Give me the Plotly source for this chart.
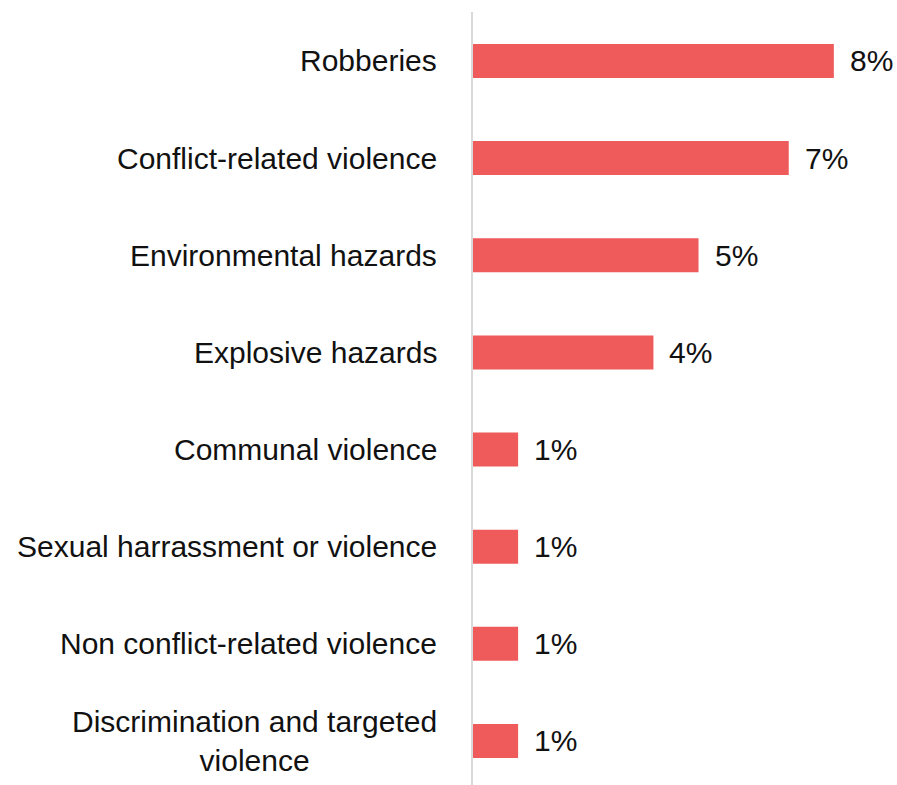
import plotly.graph_objects as go

# Share of respondents reporting each safety concern
categories = [
    "Robberies",
    "Conflict-related violence",
    "Environmental hazards",
    "Explosive hazards",
    "Communal violence",
    "Sexual harrassment or violence",
    "Non conflict-related violence",
    "Discrimination and targeted<br>violence",
]
values = [8, 7, 5, 4, 1, 1, 1, 1]
value_labels = ["8%", "7%", "5%", "4%", "1%", "1%", "1%", "1%"]

BAR_COLOR = "#EF5A5B"
FONT = "Liberation Sans, Arial, sans-serif"
positions = list(range(len(categories)))

fig = go.Figure(
    go.Bar(
        x=values,
        y=positions,
        orientation="h",
        width=0.35,
        marker=dict(color=BAR_COLOR, line=dict(width=0)),
        hoverinfo="skip",
    )
)

annotations = []
for pos, cat, val, lab in zip(positions, categories, values, value_labels):
    # category name, right-aligned against the axis line
    annotations.append(dict(
        x=0, y=pos, xref="x", yref="y", text=cat, showarrow=False,
        xanchor="right", yanchor="middle", align="center", xshift=-34,
        font=dict(family=FONT, size=30, color="#111111"),
    ))
    # value label just past the bar end
    annotations.append(dict(
        x=val, y=pos, xref="x", yref="y", text=lab, showarrow=False,
        xanchor="left", yanchor="middle", xshift=14,
        font=dict(family=FONT, size=30, color="#111111"),
    ))

fig.update_layout(
    width=897,
    height=785,
    margin=dict(l=473, r=0, t=12, b=0),
    paper_bgcolor="white",
    plot_bgcolor="white",
    showlegend=False,
    annotations=annotations,
    xaxis=dict(range=[0, 9.4], visible=False, fixedrange=True),
    yaxis=dict(
        range=[7.453, -0.504],
        showticklabels=False,
        showgrid=False,
        zeroline=False,
        showline=True,
        linecolor="#D9D9D9",
        linewidth=2,
        ticks="",
        fixedrange=True,
    ),
)

fig.write_html("out.html")
